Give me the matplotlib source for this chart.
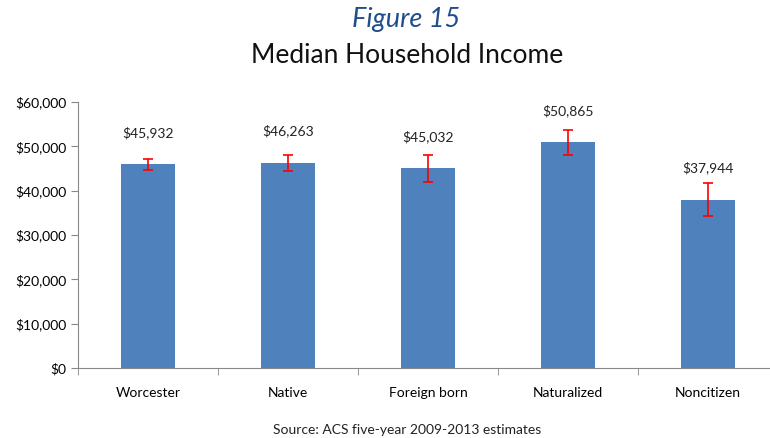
import matplotlib.pyplot as plt
from matplotlib.ticker import FuncFormatter, FixedLocator

categories = ["Worcester", "Native", "Foreign born", "Naturalized", "Noncitizen"]
incomes = [45932, 46263, 45032, 50865, 37944]
margins = [1300, 1800, 3000, 2900, 3700]
label_font = "Lato"


def draw_chart():
    fig = plt.figure(figsize=(7.7, 4.38), dpi=100)
    ax = fig.add_axes([78 / 770, 1 - 368 / 438, 700 / 770, 266 / 438])

    x = list(range(len(categories)))
    ax.bar(x, incomes, width=0.39, color="#4F81BD", zorder=2)
    ax.errorbar(x, incomes, yerr=margins, fmt="none", ecolor="#FF0000",
                elinewidth=1.2, capsize=3.5, capthick=1.2, zorder=3)

    for xi, val in zip(x, incomes):
        ax.annotate(f"${val:,}", (xi, val), xytext=(0, 32),
                    textcoords="offset pixels", ha="center", va="center",
                    fontsize=10, family=label_font, color="#222222")

    ax.set_xlim(-0.5, len(categories) - 0.5)
    ax.set_ylim(0, 60000)
    ax.set_yticks(range(0, 60001, 10000))
    ax.yaxis.set_major_formatter(FuncFormatter(lambda v, p: f"${int(v):,}"))
    ax.set_xticks(x)
    ax.set_xticklabels(categories, family=label_font, fontsize=10)
    ax.xaxis.set_minor_locator(FixedLocator([i - 0.5 for i in range(len(categories) + 1)]))
    ax.tick_params(axis="x", which="major", length=0, pad=14)
    ax.tick_params(axis="x", which="minor", length=5, color="#888888")
    ax.tick_params(axis="y", length=5, color="#888888", labelsize=10)
    for lbl in ax.get_yticklabels():
        lbl.set_family(label_font)

    for side in ["top", "right"]:
        ax.spines[side].set_visible(False)
    for side in ["left", "bottom"]:
        ax.spines[side].set_color("#888888")

    fig.text(0.527, 0.955, "Figure 15", ha="center", va="center", fontsize=19.5,
             style="italic", color="#1F4E8C", family=label_font)
    fig.text(0.529, 0.873, "Median Household Income", ha="center", va="center",
             fontsize=19, color="#111111", family=label_font)
    fig.text(0.529, 0.018, "Source: ACS five-year 2009-2013 estimates",
             ha="center", va="center", fontsize=10, family=label_font,
             color="#222222")

    plt.savefig("out.png", dpi=100)


if __name__ == '__main__':
    draw_chart()
